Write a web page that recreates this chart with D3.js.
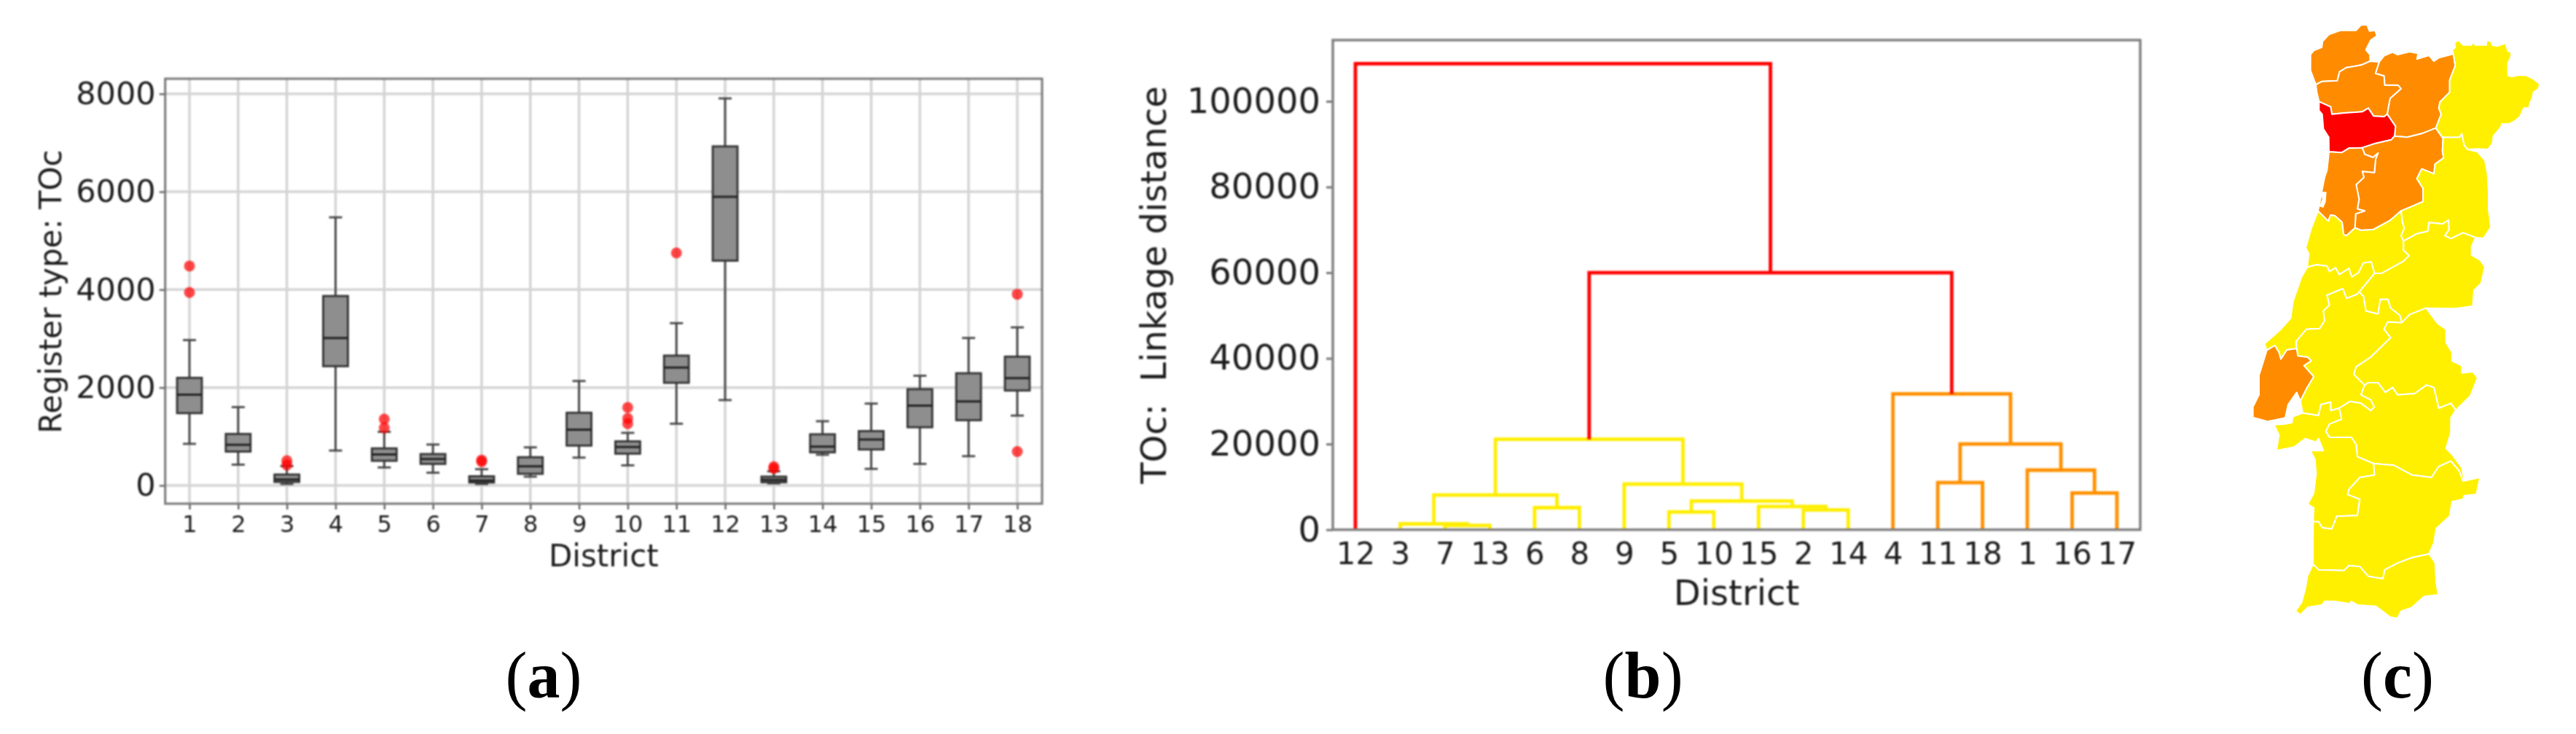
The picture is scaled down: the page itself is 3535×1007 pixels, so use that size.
<!DOCTYPE html>
<html><head><meta charset="utf-8">
<script src="https://cdn.jsdelivr.net/npm/d3@7"></script>
<style>
html,body{margin:0;padding:0;background:#fff;}
svg{display:block;}
text{font-family:"DejaVu Sans",sans-serif;fill:#1c1c1c;}
.soft{filter:blur(0.8px);}
.panel text{font-family:"Liberation Serif",serif;fill:#000;font-size:90px;}
</style></head><body>
<svg id="chart" width="3535" height="1007"></svg>
<script>
// ---------- (a) box plot data ----------
const districts = [1,2,3,4,5,6,7,8,9,10,11,12,13,14,15,16,17,18];
const whiskerLow  = [850,425,30,713,368,260,30,180,569,411,1261,1744,43,627,339,440,598,1427];
const quartile1   = [1477,692,72,2436,504,440,60,238,814,649,2097,4591,65,677,735,1189,1333,1939];
const medianValue = [1852,829,122,3012,634,540,101,389,1139,786,2407,5895,115,793,937,1629,1715,2191];
const quartile3   = [2198,1052,223,3870,757,641,187,577,1485,901,2652,6926,180,1045,1110,1967,2292,2631];
const whiskerHigh = [2969,1600,396,5477,1095,836,332,778,2133,1074,3315,7906,288,1312,1672,2241,3012,3229];
const outliers    = [[4483,3942],[],[505,418],[],[1355,1175],[],[519,483],[],[],[1593,1369,1261],[4750],[],[382,346],[],[],[],[],[3906,692]];
const boxYTicks   = [0,2000,4000,6000,8000];

// ---------- (b) dendrogram data ----------
const leafOrder  = [12,3,7,13,6,8,9,5,10,15,2,14,4,11,18,1,16,17];
const mergeNames  = ["m0","m1","m2","m3","m4","m5","m6","m7","m8","m9","m10","m11","m12","m13","m14","m15","m16"];
const mergeLeft   = [7,3,6,"m1",5,2,15,"m4",9,"m3",11,16,1,"m10",4,"m9",12];
const mergeRight  = [13,"m0",8,"m2",10,14,"m5","m6","m7","m8",18,17,"m11","m12","m13","m14","m15"];
const mergeHeight = [1000,1350,5140,8100,4150,4600,5400,6680,10650,21100,11000,8570,13900,20000,31700,60000,108800];
const mergeClass  = ["y","y","y","y","y","y","y","y","y","y","o","o","o","o","o","r","r"];
const dendroYTicks = [0,20000,40000,60000,80000,100000];
const dendroColour = {r:"#ff0000", o:"#ff9000", y:"#ffee00"};

// ---------- (c) map data: traced shared borders (map units) ----------
const mapColour = {r:"#ff0000", o:"#ff8c00", y:"#fff000"};
const rev = a => a.slice().reverse();
const vianaOuter = [[384,318],[362,260],[362,195],[375,178],[408,165],[412,140],[438,112],[487,95],[550,95],[570,73],[595,73],[605,98],[628,95],[635,118],[610,135],[590,175],[607,195],[607,222]];
const vianaBraga = [[607,222],[570,238],[510,248],[482,265],[472,302],[410,305],[384,318]];
const bragaOuter = [[607,222],[645,225]];
const bragaVR = [[645,225],[630,272],[665,282],[668,320],[722,320],[735,335],[690,375],[678,440]];
const bragaPorto = [[678,440],[665,450],[622,448],[600,415],[575,430],[500,435],[450,440],[445,410],[397,388]];
const bragaCoast = [[397,388],[388,350],[384,318]];
const vrOuter = [[645,225],[665,200],[700,185],[720,195],[770,183],[805,190],[800,213],[850,198],[870,222],[890,208],[950,192]];
const vrBraganca = [[950,192],[958,240],[935,300],[935,350],[895,390],[890,415],[900,440],[878,497]];
const vrViseu = [[878,497],[820,520],[760,535],[708,530]];
const vrPorto = [[708,530],[712,490],[678,440]];
const portoViseu = [[708,530],[695,545],[630,560],[575,578]];
const portoAveiro = [[575,578],[520,580],[490,598],[438,595]];
const portoCoast = [[438,595],[437,535],[415,500],[410,440],[397,425],[397,388]];
const aveiroViseu = [[575,578],[585,605],[620,618],[640,600],[630,625],[625,680],[575,675],[582,700],[550,730],[562,790],[555,830],[585,838],[548,850],[545,908]];
const viseuCoimbra = [[545,908],[570,918],[620,915],[690,877],[735,838]];
const viseuGuarda = [[878,497],[908,540],[905,590],[910,620],[875,645],[870,685],[820,665],[800,705],[825,745],[825,800],[735,838]];
const aveiroCoimbra = [[393,838],[435,880],[445,855],[462,858],[492,885],[498,935],[510,940],[545,908]];
const aveiroCoast = [[393,838],[405,780],[410,750],[420,700],[430,670],[438,595]];
const aveiroLagoon = [[405,760],[428,760],[425,800],[415,825],[398,820],[410,790]];
const guardaCoimbra = [[735,838],[740,880],[748,910],[735,940],[745,962]];
const coimbraCB = [[745,962],[745,1000],[768,1022],[745,1045],[655,1095],[625,1095]];
const coimbraLeiria = [[348,1070],[385,1060],[430,1065],[440,1088],[465,1072],[480,1100],[520,1075],[532,1110],[560,1092],[580,1052],[612,1048],[625,1095]];
const coimbraCoast = [[348,1070],[355,1015],[342,990],[365,910],[393,838]];
const bragancaGuarda = [[878,497],[905,535],[975,535],[985,520],[995,568],[1010,585]];
const bragancaOuter = [[950,192],[945,175],[958,165],[955,145],[972,135],[990,155],[1025,155],[1030,142],[1040,155],[1085,155],[1088,135],[1105,140],[1110,155],[1130,160],[1165,148],[1175,180],[1188,185],[1188,202],[1175,230],[1175,280],[1190,285],[1215,280],[1250,280],[1280,295],[1305,315],[1302,335],[1280,350],[1275,375],[1265,395],[1262,415],[1240,415],[1225,450],[1200,470],[1180,480],[1150,480],[1145,495],[1115,530],[1112,560],[1092,585],[1050,583],[1010,585]];
const guardaOuter = [[1010,585],[1050,595],[1080,630],[1090,680],[1095,760],[1095,830],[1105,905],[1075,950],[1042,948]];
const guardaCB = [[745,962],[800,932],[845,922],[850,886],[905,892],[930,876],[932,915],[915,940],[940,952],[990,928],[1042,948]];
const cbOuter = [[1042,948],[1025,985],[1025,1020],[1060,1040],[1080,1068],[1065,1135],[1035,1165],[1030,1230],[960,1240],[915,1240],[838,1238]];
const cbPortalegre = [[738,1298],[770,1265],[838,1238]];
const cbSantarem = [[562,1172],[580,1190],[590,1250],[640,1262],[650,1202],[680,1202],[692,1238],[730,1268],[738,1298]];
const leiriaCB = [[625,1095],[562,1172]];
const leiriaSantarem = [[562,1172],[552,1182],[510,1198],[495,1158],[430,1185],[440,1225],[415,1250],[420,1290],[400,1322],[345,1325],[303,1375],[305,1405]];
const leiriaLisboa = [[305,1405],[265,1410],[240,1448],[232,1420],[215,1392],[182,1412]];
const leiriaCoast = [[182,1412],[172,1385],[240,1325],[280,1280],[290,1210],[325,1110],[348,1070]];
const lisboaSantarem = [[305,1405],[310,1435],[350,1440],[365,1455],[335,1475],[375,1520],[345,1570],[320,1620]];
const lisboaSouth = [[320,1620],[305,1585],[270,1635],[258,1690],[185,1705],[125,1688],[125,1645],[150,1595],[150,1515],[182,1412]];
const santaremPortalegre = [[738,1298],[680,1295],[665,1325],[692,1360],[610,1440],[550,1480],[540,1510],[585,1555]];
const santaremEvora = [[585,1555],[570,1595],[610,1615],[625,1645],[610,1660],[570,1630],[525,1622],[480,1650]];
const santaremSetubal = [[480,1650],[445,1660],[445,1625],[405,1635],[395,1680],[330,1670]];
const santaremEstuary = [[330,1670],[320,1620]];
const portalegreOuter = [[838,1238],[885,1300],[920,1325],[920,1380],[945,1420],[945,1455],[985,1475],[985,1505],[1030,1500],[1050,1525],[1020,1600],[960,1658]];
const portalegreEvora = [[585,1555],[600,1545],[640,1545],[670,1585],[700,1565],[720,1595],[790,1590],[840,1555],[870,1565],[890,1650],[940,1630],[960,1658]];
const evoraOuter = [[960,1658],[940,1690],[940,1750],[920,1815],[945,1840],[985,1895],[995,1945],[990,1950]];
const evoraBeja = [[622,1878],[705,1885],[780,1925],[860,1935],[890,1890],[940,1868],[975,1910],[990,1950]];
const evoraSetubal = [[480,1650],[490,1695],[440,1715],[425,1745],[440,1770],[530,1770],[550,1800],[555,1850],[622,1878]];
const setubalBeja = [[622,1878],[625,1925],[565,1935],[520,1985],[515,2005],[565,2025],[555,2092],[470,2095],[450,2147],[410,2142],[395,2117],[373,2117]];
const setubalCoast = [[373,2117],[375,2060],[350,2045],[375,2000],[385,1920],[380,1860],[362,1825],[415,1825],[395,1775],[385,1790],[340,1775],[295,1810],[222,1825],[232,1760],[212,1718],[255,1715],[285,1710],[290,1685],[330,1670]];
const bejaOuter = [[990,1950],[1060,1935],[1045,2005],[995,2010],[990,2025],[945,2035],[935,2095],[880,2145],[870,2205],[850,2250]];
const bejaFaro = [[372,2292],[395,2315],[500,2318],[520,2298],[565,2302],[600,2342],[660,2352],[668,2315],[720,2288],[780,2265],[850,2250]];
const bejaCoast = [[372,2292],[372,2220],[373,2117]];
const faroOuter = [[850,2250],[875,2285],[880,2370],[888,2418],[830,2425],[780,2470],[735,2485],[720,2515],[690,2510],[630,2465],[555,2460],[530,2445],[525,2455],[460,2445],[420,2445],[410,2460],[350,2470],[320,2500],[300,2485],[325,2450],[340,2395],[350,2340],[372,2292]];

const mapRings = [
  [...vianaOuter,...vianaBraga],
  [...rev(vianaBraga),...bragaOuter,...bragaVR,...bragaPorto,...bragaCoast],
  [...vrOuter,...vrBraganca,...vrViseu,...vrPorto,...rev(bragaVR)],
  [...rev(bragaPorto),...rev(vrPorto),...portoViseu,...portoAveiro,...portoCoast],
  [...rev(vrViseu),...viseuGuarda,...rev(viseuCoimbra),...rev(aveiroViseu),...rev(portoViseu)],
  [...rev(portoAveiro),...aveiroViseu,...rev(aveiroCoimbra),...aveiroCoast],
  [...aveiroCoimbra,...viseuCoimbra,...guardaCoimbra,...coimbraCB,...rev(coimbraLeiria),...coimbraCoast],
  [...bragancaGuarda,...guardaOuter,...rev(guardaCB),...rev(guardaCoimbra),...rev(viseuGuarda)],
  [...bragancaOuter,...rev(bragancaGuarda),...rev(vrBraganca)],
  [...guardaCB,...cbOuter,...rev(cbPortalegre),...rev(cbSantarem),...rev(leiriaCB),...rev(coimbraCB)],
  [...coimbraLeiria,...leiriaCB,...leiriaSantarem,...leiriaLisboa,...leiriaCoast],
  [...rev(leiriaSantarem),...cbSantarem,...santaremPortalegre,...santaremEvora,...santaremSetubal,...santaremEstuary,...rev(lisboaSantarem)],
  [...rev(leiriaLisboa),...lisboaSantarem,...lisboaSouth],
  [...cbPortalegre,...portalegreOuter,...rev(portalegreEvora),...rev(santaremPortalegre)],
  [...portalegreEvora,...evoraOuter,...rev(evoraBeja),...rev(evoraSetubal),...rev(santaremEvora)],
  [...rev(santaremSetubal),...evoraSetubal,...setubalBeja,...setubalCoast],
  [...evoraBeja,...bejaOuter,...rev(bejaFaro),...bejaCoast,...rev(setubalBeja)],
  [...bejaFaro,...faroOuter]
];
const mapClasses = ["o","o","o","r","o","o","y","y","y","y","y","y","o","y","y","y","y","y"];

const panelLetters = ["a","b","c"];

// ---------- drawing ----------
const svg = d3.select("#chart");
svg.append("rect").attr("width",3535).attr("height",1007).attr("fill","#fff");

// ---- (a) ----
(function(){
  const L=226.7,R=1430,T=108,B=691;
  const x = d3.scaleLinear().domain([1,18]).range([260,1396]);
  const y = d3.scaleLinear().domain([0,8000]).range([666,128.7]);
  const g = svg.append("g").attr("class","soft");
  const xAxis = g.append("g").attr("transform",`translate(0,${B})`)
     .call(d3.axisBottom(x).tickValues(districts).tickFormat(d3.format("d")).tickSize(8).tickPadding(8));
  const yAxis = g.append("g").attr("transform",`translate(${L},0)`)
     .call(d3.axisLeft(y).tickValues(boxYTicks).tickFormat(d3.format("d")).tickSize(8).tickPadding(5));
  xAxis.select(".domain").remove(); yAxis.select(".domain").remove();
  xAxis.selectAll("line").attr("stroke","#666").attr("stroke-width",2.5);
  yAxis.selectAll("line").attr("stroke","#666").attr("stroke-width",2.5);
  xAxis.selectAll("text").style("font-family","DejaVu Sans").style("font-size","32px").attr("fill","#222");
  yAxis.selectAll("text").style("font-family","DejaVu Sans").style("font-size","43px").attr("fill","#111");
  g.append("g").selectAll("line").data(districts).join("line")
    .attr("x1",d=>x(d)).attr("x2",d=>x(d)).attr("y1",T).attr("y2",B)
    .attr("stroke","#d4d4d4").attr("stroke-width",3.5);
  g.append("g").selectAll("line").data(boxYTicks).join("line")
    .attr("x1",L).attr("x2",R).attr("y1",d=>y(d)).attr("y2",d=>y(d))
    .attr("stroke","#d4d4d4").attr("stroke-width",3.5);
  const boxW=34, capW=18;
  const items = g.append("g").selectAll("g").data(districts).join("g");
  items.each(function(d,i){
    const s=d3.select(this), cx=x(d);
    s.append("line").attr("x1",cx).attr("x2",cx).attr("y1",y(whiskerLow[i])).attr("y2",y(quartile1[i])).attr("stroke","#444").attr("stroke-width",2.8);
    s.append("line").attr("x1",cx).attr("x2",cx).attr("y1",y(quartile3[i])).attr("y2",y(whiskerHigh[i])).attr("stroke","#444").attr("stroke-width",2.8);
    [whiskerLow[i],whiskerHigh[i]].forEach(v=>s.append("line").attr("x1",cx-capW/2).attr("x2",cx+capW/2).attr("y1",y(v)).attr("y2",y(v)).attr("stroke","#444").attr("stroke-width",2.8));
    s.append("rect").attr("x",cx-boxW/2).attr("width",boxW).attr("y",y(quartile3[i])).attr("height",y(quartile1[i])-y(quartile3[i]))
      .attr("fill","#8e8e8e").attr("stroke","#333").attr("stroke-width",2.8);
    s.append("line").attr("x1",cx-boxW/2).attr("x2",cx+boxW/2).attr("y1",y(medianValue[i])).attr("y2",y(medianValue[i])).attr("stroke","#222").attr("stroke-width",3);
    s.selectAll("circle").data(outliers[i]).join("circle").attr("cx",cx).attr("cy",v=>y(v)).attr("r",7.5).attr("fill","#ff0000").attr("fill-opacity",.72);
  });
  g.append("rect").attr("x",L).attr("y",T).attr("width",R-L).attr("height",B-T).attr("fill","none").attr("stroke","#777").attr("stroke-width",3);
  g.append("text").attr("x",(L+R)/2).attr("y",777).attr("text-anchor","middle").style("font-size","42px").text("District");
  g.append("text").attr("transform","translate(84,400) rotate(-90)").attr("text-anchor","middle").style("font-size","42px").text("Register type: TOc");
})();

// ---- (b) ----
(function(){
  const L=1829,R=2937,T=55,B=726.7;
  const x = d3.scalePoint().domain(leafOrder).range([1860,2905]);
  const y = d3.scaleLinear().domain([0,100000]).range([B,139]);
  const g = svg.append("g").attr("class","soft");
  const xAxis = g.append("g").attr("transform",`translate(0,${B})`)
     .call(d3.axisBottom(x).tickSize(0).tickPadding(17));
  const yAxis = g.append("g").attr("transform",`translate(${L},0)`)
     .call(d3.axisLeft(y).tickValues(dendroYTicks).tickFormat(d3.format("d")).tickSize(9).tickPadding(8));
  xAxis.select(".domain").remove(); yAxis.select(".domain").remove();
  yAxis.selectAll("line").attr("stroke","#777").attr("stroke-width",3);
  xAxis.selectAll("text").style("font-family","DejaVu Sans").style("font-size","42px").attr("fill","#1c1c1c");
  yAxis.selectAll("text").style("font-family","DejaVu Sans").style("font-size","48px").attr("fill","#111");
  const pos = {};
  leafOrder.forEach(d=>{pos[d]={x:x(d),h:0};});
  const linePath = d3.line().x(p=>p[0]).y(p=>y(p[1]));
  mergeNames.forEach((name,i)=>{
    const a=pos[mergeLeft[i]], b=pos[mergeRight[i]], h=mergeHeight[i];
    g.append("path").attr("d",linePath([[a.x,a.h],[a.x,h],[b.x,h],[b.x,b.h]]))
      .attr("fill","none").attr("stroke",dendroColour[mergeClass[i]])
      .attr("stroke-width",4.8);
    pos[name]={x:(a.x+b.x)/2,h};
  });
  g.append("rect").attr("x",L).attr("y",T).attr("width",R-L).attr("height",B-T).attr("fill","none").attr("stroke","#808080").attr("stroke-width",3.5);
  g.append("text").attr("x",2383).attr("y",830).attr("text-anchor","middle").style("font-size","48px").text("District");
  g.append("text").attr("transform","translate(1600,391) rotate(-90)").attr("text-anchor","middle").style("font-size","48px").style("white-space","pre").text("TOc:  Linkage distance");
})();

// ---- (c) ----
(function(){
  const proj = d3.geoIdentity().scale(1/3).translate([3050,10]);
  const path = d3.geoPath(proj);
  const g = svg.append("g");
  g.selectAll("path.d").data(mapRings).join("path").attr("class","d")
    .attr("d",pts=>path({type:"Polygon",coordinates:[[...pts,pts[0]]]}))
    .attr("fill",(d,i)=>mapColour[mapClasses[i]])
    .attr("stroke","#fff").attr("stroke-width",2).attr("stroke-linejoin","round");
  g.append("path").attr("d",path({type:"Polygon",coordinates:[[...aveiroLagoon,aveiroLagoon[0]]]})).attr("fill","#fff");
})();

// ---- panel labels ----
const panelCx = d3.scaleOrdinal().domain(panelLetters).range([746,2254.6,3290]);
const panel = svg.append("g").attr("class","panel");
panelLetters.forEach(l=>{
  const t=panel.append("text").attr("x",panelCx(l)).attr("y",957).attr("text-anchor","middle");
  t.append("tspan").text("(");
  t.append("tspan").attr("font-weight","bold").text(l);
  t.append("tspan").text(")");
});
</script>
</body></html>
